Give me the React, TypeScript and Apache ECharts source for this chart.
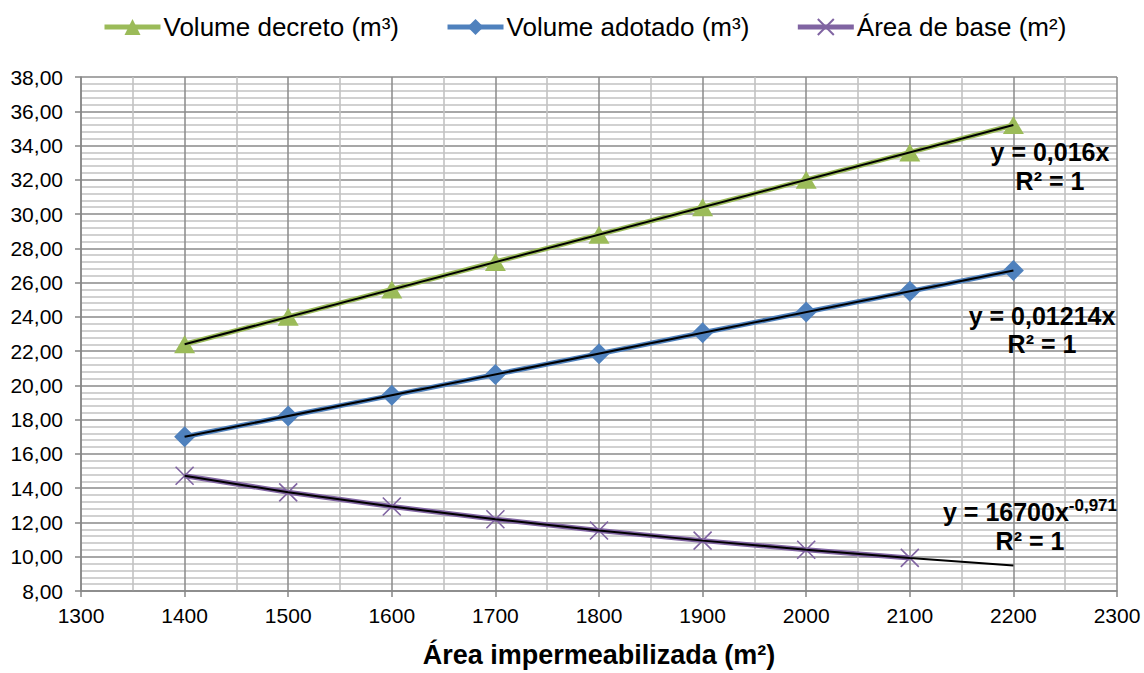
import React, { useEffect, useRef } from "react";
import * as echarts from "echarts";

// Impervious area (m²) on the x axis
const areas = [1400, 1500, 1600, 1700, 1800, 1900, 2000, 2100, 2200];
const areasBase = [1400, 1500, 1600, 1700, 1800, 1900, 2000, 2100];

// Series values
const volumeDecreto = [22.4, 24.0, 25.6, 27.2, 28.8, 30.4, 32.0, 33.6, 35.2];
const volumeAdotado = [17.0, 18.21, 19.42, 20.64, 21.85, 23.07, 24.28, 25.49, 26.71];
const areaBase = [14.73, 13.76, 12.93, 12.19, 11.53, 10.94, 10.41, 9.93];

// Trendline values
const trendDecretoX = [1400, 2200];
const trendDecretoY = [22.4, 35.2];
const trendAdotadoX = [1400, 2200];
const trendAdotadoY = [17.0, 26.71];
const trendBaseX = [1400, 1500, 1600, 1700, 1800, 1900, 2000, 2100, 2200];
const trendBaseY = [14.73, 13.76, 12.93, 12.19, 11.53, 10.94, 10.41, 9.93, 9.49];

const seriesNames = ["Volume decreto (m³)", "Volume adotado (m³)", "Área de base (m²)"];
const colors = ["#9BBB59", "#4F81BD", "#8064A2"];

const FONT = "'Liberation Sans', Arial, sans-serif";

const pairs = (xs: number[], ys: number[]) => xs.map((x, i) => [x, ys[i]]);

export default function App() {
  const ref = useRef<HTMLDivElement>(null);

  useEffect(() => {
    if (!ref.current) return;
    const chart = echarts.init(ref.current, null, { renderer: "svg" });

    const trendStyle = {
      type: "line" as const,
      showSymbol: false,
      symbol: "none",
      lineStyle: { color: "#000", width: 2 },
      z: 10,
      silent: true,
    };

    const labelStyle = {
      fontFamily: FONT,
      fontSize: 25,
      fontWeight: "bold" as const,
      fill: "#000",
      align: "center" as const,
      verticalAlign: "middle" as const,
    };

    chart.setOption({
      animation: false,
      backgroundColor: "#fff",
      textStyle: { fontFamily: FONT },
      legend: {
        data: seriesNames,
        top: 9,
        left: 97,
        itemWidth: 56,
        itemHeight: 20,
        itemGap: 46,
        lineStyle: { width: 5 },
        textStyle: { fontSize: 26, color: "#000", fontFamily: FONT, padding: [0, 0, 0, -2] },
      },
      grid: { left: 81, right: 27, top: 77, height: 520 },
      xAxis: {
        type: "value",
        min: 1300,
        max: 2300,
        interval: 100,
        name: "Área impermeabilizada (m²)",
        nameLocation: "middle",
        nameGap: 50,
        nameTextStyle: { fontSize: 27, fontWeight: "bold", color: "#000", fontFamily: FONT },
        axisLine: { show: true, lineStyle: { color: "#868686", width: 1.5 } },
        axisTick: { show: true, length: 6, lineStyle: { color: "#868686", width: 1.5 } },
        axisLabel: {
          fontSize: 21,
          color: "#000",
          margin: 14,
          fontFamily: FONT,
          formatter: (v: number) => String(v),
        },
        splitLine: { show: true, lineStyle: { color: "#8a8a8a", width: 1.5 } },
        minorTick: { show: false, splitNumber: 2 },
        minorSplitLine: { show: true, lineStyle: { color: "#c2c2c2", width: 1.6 } },
      },
      yAxis: {
        type: "value",
        min: 8,
        max: 38,
        interval: 2,
        axisLine: { show: true, lineStyle: { color: "#868686", width: 1.5 } },
        axisTick: { show: true, length: 6, lineStyle: { color: "#868686", width: 1.5 } },
        axisLabel: {
          fontSize: 21,
          color: "#000",
          margin: 18,
          fontFamily: FONT,
          formatter: (v: number) => v.toFixed(2).replace(".", ","),
        },
        splitLine: { show: true, lineStyle: { color: "#8a8a8a", width: 1.5 } },
        minorTick: { show: false, splitNumber: 5 },
        minorSplitLine: { show: true, lineStyle: { color: "#c2c2c2", width: 1.6 } },
      },
      series: [
        {
          name: seriesNames[0],
          type: "line",
          data: pairs(areas, volumeDecreto),
          symbol: "triangle",
          symbolSize: [21, 18],
          itemStyle: { color: colors[0] },
          lineStyle: { color: colors[0], width: 5 },
          z: 3,
        },
        {
          name: seriesNames[1],
          type: "line",
          data: pairs(areas, volumeAdotado),
          symbol: "diamond",
          symbolSize: [21, 21],
          itemStyle: { color: colors[1] },
          lineStyle: { color: colors[1], width: 5 },
          z: 3,
        },
        {
          name: seriesNames[2],
          type: "line",
          data: pairs(areasBase, areaBase),
          symbol: "path://M0,0L10,10M10,0L0,10",
          symbolSize: 18,
          itemStyle: { color: "rgba(0,0,0,0)", borderColor: colors[2], borderWidth: 1.6 },
          lineStyle: { color: colors[2], width: 5 },
          z: 3,
        },
        { ...trendStyle, name: "trend1", data: pairs(trendDecretoX, trendDecretoY) },
        { ...trendStyle, name: "trend2", data: pairs(trendAdotadoX, trendAdotadoY) },
        { ...trendStyle, name: "trend3", data: pairs(trendBaseX, trendBaseY) },
      ],
      graphic: [
        { type: "text", x: 1050, y: 152, z: 20, style: { ...labelStyle, text: "y = 0,016x" } },
        { type: "text", x: 1050, y: 181, z: 20, style: { ...labelStyle, text: "R² = 1" } },
        { type: "text", x: 1042, y: 316, z: 20, style: { ...labelStyle, text: "y = 0,01214x" } },
        { type: "text", x: 1042, y: 344, z: 20, style: { ...labelStyle, text: "R² = 1" } },
        {
          type: "text",
          x: 1030,
          y: 512,
          z: 20,
          style: {
            ...labelStyle,
            text: "{b|y = 16700x}{s|-0,971}",
            rich: {
              b: { fontFamily: FONT, fontSize: 25, fontWeight: "bold", fill: "#000" },
              s: { fontFamily: FONT, fontSize: 17, fontWeight: "bold", fill: "#000", verticalAlign: "top", padding: [0, 0, 14, 0] },
            },
          },
        },
        { type: "text", x: 1030, y: 541, z: 20, style: { ...labelStyle, text: "R² = 1" } },
      ],
    });

    return () => chart.dispose();
  }, []);

  return (
    <div
      ref={ref}
      style={{ position: "fixed", left: 0, top: 0, width: 1144, height: 673 }}
    />
  );
}
